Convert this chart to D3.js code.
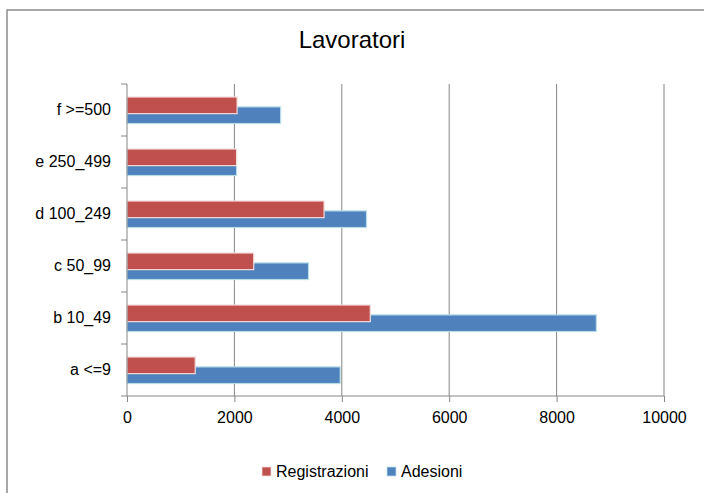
<!DOCTYPE html>
<html>
<head>
<meta charset="utf-8">
<script src="https://cdn.jsdelivr.net/npm/d3@7"></script>
<style>
  body { margin: 0; background: #fff; }
  text { font-family: "Liberation Sans", Arial, sans-serif; fill: #000; }
</style>
</head>
<body>
<script>
const categories = ["a <=9", "b 10_49", "c 50_99", "d 100_249", "e 250_499", "f >=500"];
const registrazioni = [1270, 4530, 2360, 3670, 2040, 2050];
const adesioni = [3970, 8740, 3380, 4460, 2040, 2860];
const xTicks = [0, 2000, 4000, 6000, 8000, 10000];
const seriesNames = ["Registrazioni", "Adesioni"];
const seriesColors = ["#C0504D", "#4F81BD"];
const seriesStrokes = ["#F2DCDB", "#B7DEE8"];

function main(){
    const svg = d3.select("body").append("svg")
        .attr("width", 704)
        .attr("height", 493);

    // outer chart frame (runs off the right/bottom edge)
    svg.append("rect")
        .attr("x", 7).attr("y", 10)
        .attr("width", 720).attr("height", 500)
        .attr("fill", "#fff")
        .attr("stroke", "#8c8c8c")
        .attr("stroke-width", 1.5);

    svg.append("text")
        .attr("x", 352).attr("y", 48)
        .attr("text-anchor", "middle")
        .attr("font-size", "24px")
        .text("Lavoratori");

    const x = d3.scaleLinear().domain([0, 10000]).range([127, 664]);
    const y = d3.scaleBand().domain(categories.slice().reverse()).range([84, 396]);
    const bw = y.bandwidth();

    // gridlines
    svg.append("g").selectAll("line")
        .data(xTicks.slice(1))
        .join("line")
        .attr("x1", d => x(d)).attr("x2", d => x(d))
        .attr("y1", 84).attr("y2", 396)
        .attr("stroke", "#868686")
        .attr("stroke-width", 1);

    const data = categories.map((c, i) => ({cat: c, r: registrazioni[i], a: adesioni[i]}));

    // blue drawn first, red overlaps on top
    svg.append("g").selectAll("rect")
        .data(data)
        .join("rect")
        .attr("x", x(0))
        .attr("y", d => y(d.cat) + bw * 0.44)
        .attr("width", d => x(d.a) - x(0))
        .attr("height", bw * 0.32)
        .attr("fill", seriesColors[1])
        .attr("stroke", seriesStrokes[1])
        .attr("stroke-width", 1.2);

    svg.append("g").selectAll("rect")
        .data(data)
        .join("rect")
        .attr("x", x(0))
        .attr("y", d => y(d.cat) + bw * 0.25)
        .attr("width", d => x(d.r) - x(0))
        .attr("height", bw * 0.32)
        .attr("fill", seriesColors[0])
        .attr("stroke", seriesStrokes[0])
        .attr("stroke-width", 1.2);

    // x axis
    const xAxis = svg.append("g")
        .attr("transform", "translate(0,396)")
        .call(d3.axisBottom(x).tickValues(xTicks).tickSize(6).tickPadding(10).tickFormat(d3.format("d")));
    xAxis.selectAll("line,path").attr("stroke", "#868686");
    xAxis.select(".domain").attr("d", "M127,0H664");
    xAxis.selectAll("text").attr("font-size", "16px").attr("font-family", "Liberation Sans, Arial, sans-serif");

    // y axis
    const yAxis = svg.append("g")
        .attr("transform", "translate(127,0)")
        .call(d3.axisLeft(y).tickSize(0).tickPadding(16));
    yAxis.select(".domain").attr("stroke", "#868686").attr("d", "M0,84V396");
    yAxis.selectAll("text").attr("font-size", "16px").attr("font-family", "Liberation Sans, Arial, sans-serif");
    yAxis.append("g").selectAll("line")
        .data(d3.range(categories.length + 1))
        .join("line")
        .attr("x1", -6).attr("x2", 0)
        .attr("y1", i => 84 + i * bw).attr("y2", i => 84 + i * bw)
        .attr("stroke", "#868686");

    // legend
    const legendX = [262, 387];
    const legend = svg.append("g").selectAll("g")
        .data(seriesNames)
        .join("g")
        .attr("transform", (d, i) => `translate(${legendX[i]},467)`);
    legend.append("rect")
        .attr("width", 9).attr("height", 9)
        .attr("fill", (d, i) => seriesColors[i])
        .attr("stroke", (d, i) => seriesStrokes[i])
        .attr("stroke-width", 0.8);
    legend.append("text")
        .attr("x", 14).attr("y", 10)
        .attr("font-size", "16px")
        .text(d => d);
}
main();
</script>
</body>
</html>
